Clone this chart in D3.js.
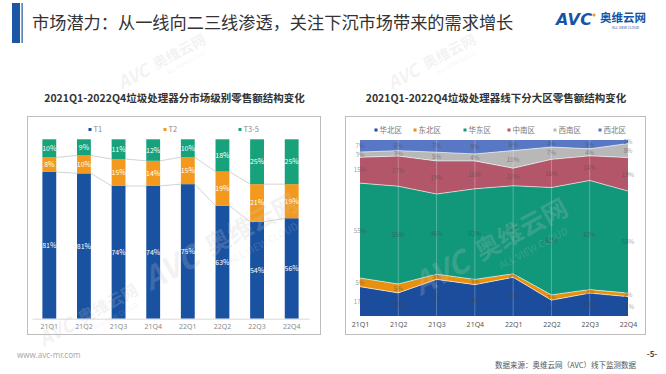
<!DOCTYPE html>
<html>
<head>
<meta charset="utf-8">
<script src="https://cdn.jsdelivr.net/npm/d3@7"></script>
<style>
  body { margin: 0; background: #fff; }
  svg { display: block; font-family: "Noto Sans CJK SC", "Noto Sans", sans-serif; }
</style>
</head>
<body>
<div id="chart"></div>
<script>
const quarters = ['21Q1', '21Q2', '21Q3', '21Q4', '22Q1', '22Q2', '22Q3', '22Q4']

// left: share by market tier (%)
const tierNames = ['T1', 'T2', 'T3-5']
const t1 = [81, 81, 74, 74, 75, 63, 54, 56]
const t2 = [8, 10, 15, 14, 15, 19, 21, 19]
const t35 = [10, 9, 11, 12, 10, 18, 25, 25]

// right: offline share by region (%), bottom to top
const regionNames = ['华北区', '东北区', '华东区', '中南区', '西南区', '西北区']
const huabei = [17, 13, 21, 18, 22, 9, 13, 11]
const dongbei = [5, 5, 3, 3, 2, 3, 2, 2]
const huadong = [55, 55, 46, 52, 50, 61, 62, 58]
const zhongnan = [15, 17, 19, 16, 10, 16, 14, 19]
const xinan = [3, 3, 5, 4, 10, 7, 4, 8]
const xibei = [7, 6, 7, 8, 6, 4, 5, 2]

const width = 666
const height = 374

const svg = d3.select('#chart').append('svg')
  .attr('width', width)
  .attr('height', height)

svg.append('rect').attr('width', width).attr('height', height).attr('fill', '#fff')

// ---- header
svg.append('rect').attr('x', 12).attr('y', 3).attr('width', 8).attr('height', 40).attr('fill', '#1a55a6')
svg.append('rect').attr('x', 21.5).attr('y', 3).attr('width', 1.2).attr('height', 40).attr('fill', '#1a55a6')
svg.append('text')
  .attr('x', 32).attr('y', 29)
  .attr('font-size', 17.2)
  .attr('fill', '#333')
  .text('市场潜力：从一线向二三线渗透，关注下沉市场带来的需求增长')

const logo = svg.append('g')
logo.append('text')
  .attr('x', 556).attr('y', 25)
  .attr('font-family', 'DejaVu Sans, sans-serif')
  .attr('font-size', 16).attr('font-weight', 'bold').attr('font-style', 'italic')
  .attr('fill', '#1753a8').attr('textLength', 36)
  .text('AVC')
logo.append('circle').attr('cx', 594).attr('cy', 15).attr('r', 1.6).attr('fill', '#f39a1e')
logo.append('text')
  .attr('x', 600).attr('y', 22)
  .attr('font-size', 11.5).attr('font-weight', 'bold')
  .attr('fill', '#1753a8')
  .text('奥维云网')
logo.append('text')
  .attr('x', 612).attr('y', 29)
  .attr('font-size', 3.5).attr('fill', '#1753a8')
  .text('ALL VIEW CLOUD')

// ---- panels
function panel (x0, x1, title) {
  svg.append('rect')
    .attr('x', x0 + 0.5).attr('y', 116.5)
    .attr('width', x1 - x0).attr('height', 218)
    .attr('fill', 'none').attr('stroke', '#bdbdbd')
  svg.append('text')
    .attr('x', (x0 + x1) / 2 + 1).attr('y', 102)
    .attr('text-anchor', 'middle')
    .attr('font-size', 10.5).attr('font-weight', 'bold')
    .attr('fill', '#333')
    .text(title)
}

panel(27, 320, '2021Q1-2022Q4垃圾处理器分市场级别零售额结构变化')
panel(345, 645, '2021Q1-2022Q4垃圾处理器线下分大区零售额结构变化')

// ---- left: stacked 100% bars
const tierColors = ['#1a52a2', '#f39a1e', '#17a27b']
const tierRows = quarters.map((q, i) => ({ q: q, 'T1': t1[i], 'T2': t2[i], 'T3-5': t35[i] }))
const tierStack = d3.stack().keys(tierNames).offset(d3.stackOffsetExpand)(tierRows)

const xL = d3.scaleBand().domain(quarters).range([32, 309]).paddingInner(0.6).paddingOuter(0.3)
const yL = d3.scaleLinear().domain([0, 1]).range([318.7, 139.3])

// series lines between bars
const serLine = svg.append('g')
tierStack.slice(0, 2).forEach(s => {
  for (let i = 0; i < quarters.length - 1; i++) {
    serLine.append('line')
      .attr('x1', xL(quarters[i]) + xL.bandwidth())
      .attr('x2', xL(quarters[i + 1]))
      .attr('y1', yL(s[i][1]))
      .attr('y2', yL(s[i + 1][1]))
      .attr('stroke', '#c8c8c8').attr('stroke-width', 0.8)
  }
})

const tierG = svg.append('g').selectAll('g')
  .data(tierStack)
  .join('g')
  .attr('fill', (d, i) => tierColors[i])

tierG.selectAll('rect')
  .data(d => d)
  .join('rect')
  .attr('x', d => xL(d.data.q))
  .attr('width', xL.bandwidth())
  .attr('y', d => yL(d[1]))
  .attr('height', d => yL(d[0]) - yL(d[1]))

tierG.selectAll('text')
  .data((d, i) => d.map(p => ({ p: p, key: tierNames[i] })))
  .join('text')
  .attr('x', d => xL(d.p.data.q) + xL.bandwidth() / 2)
  .attr('y', d => (yL(d.p[0]) + yL(d.p[1])) / 2 + 2.5)
  .attr('text-anchor', 'middle')
  .attr('font-size', 7).attr('fill', '#fff')
  .text(d => d.p.data[d.key] + '%')

const axL = svg.append('g')
  .attr('transform', 'translate(0,318.7)')
  .call(d3.axisBottom(xL).tickSize(0).tickPadding(5))
axL.select('.domain').attr('stroke', '#d9d9d9')
axL.selectAll('text').attr('fill', '#8a8a8a').attr('font-size', 7).attr('font-family', 'Noto Sans, sans-serif')

const legL = svg.append('g').selectAll('g')
  .data(tierNames)
  .join('g')
  .attr('transform', (d, i) => 'translate(' + [90, 165, 240][i] + ',129.5)')
legL.append('rect').attr('x', -1.5).attr('y', -1.5).attr('width', 3).attr('height', 3)
  .attr('fill', (d, i) => tierColors[i])
legL.append('text').attr('x', 3.5).attr('y', 2.5)
  .attr('font-size', 7.5).attr('fill', '#8a8a8a')
  .text(d => d)

// ---- right: stacked 100% area
const regionColors = ['#1c4c9c', '#e8900f', '#11977a', '#b3566a', '#b8b8b8', '#5877c4']
const regionSeries = [huabei, dongbei, huadong, zhongnan, xinan, xibei]
const regionRows = quarters.map((q, i) => {
  const r = { q: q }
  regionNames.forEach((n, k) => { r[n] = regionSeries[k][i] })
  return r
})
const regionStack = d3.stack().keys(regionNames).offset(d3.stackOffsetExpand)(regionRows)

const xR = d3.scalePoint().domain(quarters).range([360, 628])
const yR = d3.scaleLinear().domain([0, 1]).range([316, 140])

const area = d3.area()
  .x(d => xR(d.data.q))
  .y0(d => yR(d[0]))
  .y1(d => yR(d[1]))
const topLine = d3.line()
  .x(d => xR(d.data.q))
  .y(d => yR(d[1]))

svg.append('g').selectAll('path')
  .data(regionStack)
  .join('path')
  .attr('d', area)
  .attr('fill', (d, i) => regionColors[i])

svg.append('g').selectAll('path')
  .data(regionStack.slice(0, 5))
  .join('path')
  .attr('d', topLine)
  .attr('fill', 'none')
  .attr('stroke', 'rgba(255,255,255,0.6)')
  .attr('stroke-width', 1)

svg.append('g').selectAll('line')
  .data(quarters.slice(1, 7))
  .join('line')
  .attr('x1', d => xR(d)).attr('x2', d => xR(d))
  .attr('y1', yR(1)).attr('y2', yR(0))
  .attr('stroke', 'rgba(255,255,255,0.35)').attr('stroke-width', 0.8)

svg.append('g').selectAll('g')
  .data(regionStack)
  .join('g')
  .selectAll('text')
  .data((d, i) => d.map(p => ({ p: p, key: regionNames[i] })))
  .join('text')
  .attr('x', d => xR(d.p.data.q))
  .attr('y', d => (yR(d.p[0]) + yR(d.p[1])) / 2 + 2.2)
  .attr('text-anchor', 'middle')
  .attr('font-size', 6.2).attr('fill', 'rgba(70,70,70,0.55)')
  .text(d => d.p.data[d.key] + '%')

const axR = svg.append('g')
  .attr('transform', 'translate(0,316)')
  .call(d3.axisBottom(xR).tickSize(0).tickPadding(6))
axR.select('.domain').remove()
axR.selectAll('text').attr('fill', '#555').attr('font-size', 7).attr('font-family', 'Noto Sans, sans-serif')

const legR = svg.append('g').selectAll('g')
  .data(regionNames)
  .join('g')
  .attr('transform', (d, i) => 'translate(' + [376, 415, 465, 509, 555, 600][i] + ',130)')
legR.append('rect').attr('x', -1.5).attr('y', -1.5).attr('width', 3).attr('height', 3)
  .attr('fill', (d, i) => regionColors[i])
legR.append('text').attr('x', 3.5).attr('y', 2.8)
  .attr('font-size', 7.5).attr('fill', '#777')
  .text(d => d)

// ---- watermarks (faint)
const marks = [[150, 75, 0.8], [420, 75, 0.8], [200, 265, 1.4], [470, 270, 1.4], [75, 330, 0.9]]
const wm = svg.append('g').attr('pointer-events', 'none')
marks.forEach(m => {
  const g = wm.append('g').attr('transform', 'translate(' + m[0] + ',' + m[1] + ') rotate(-28) scale(' + m[2] + ')')
  g.append('text').attr('x', -40).attr('y', 0)
    .attr('font-size', 22).attr('font-weight', 'bold').attr('font-style', 'italic')
    .attr('fill', 'rgba(200,200,200,0.22)').text('AVC')
  g.append('text').attr('x', 10).attr('y', -2)
    .attr('font-size', 18).attr('font-weight', 'bold')
    .attr('fill', 'rgba(200,200,200,0.22)').text('奥维云网')
  g.append('text').attr('x', 20).attr('y', 10)
    .attr('font-size', 7)
    .attr('fill', 'rgba(200,200,200,0.22)').text('ALL VIEW CLOUD')
})

// ---- footer
svg.append('text')
  .attr('x', 17).attr('y', 358)
  .attr('font-size', 8).attr('fill', '#aaa')
  .attr('font-family', 'Noto Sans, sans-serif')
  .text('www.avc-mr.com')
svg.append('text')
  .attr('x', 636).attr('y', 368)
  .attr('text-anchor', 'end')
  .attr('font-size', 7.5).attr('fill', '#555')
  .text('数据来源：奥维云网（AVC）线下监测数据')
svg.append('text')
  .attr('x', 652).attr('y', 357)
  .attr('text-anchor', 'middle')
  .attr('font-size', 8).attr('font-weight', 'bold').attr('font-style', 'normal').attr('fill', '#444')
  .text('-5-')
</script>
</body>
</html>
